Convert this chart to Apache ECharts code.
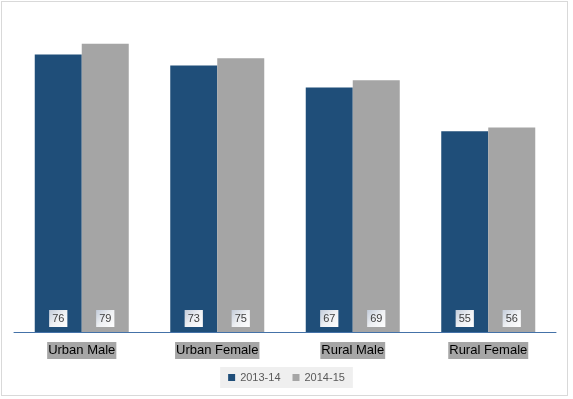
<!DOCTYPE html>
<html><head><meta charset="utf-8">
<script src="https://cdn.jsdelivr.net/npm/echarts@6/dist/echarts.min.js"></script>
<style>html,body{margin:0;padding:0;background:#fff}#wrap{position:absolute;left:1px;top:1px;width:567px;height:395px;border:1px solid #d9d9d9;box-sizing:border-box}#c{width:573px;height:399px;position:absolute;left:0;top:0}</style>
</head><body><div id="wrap"></div><div id="c"></div>
<script>
const categories = ['Urban Male','Urban Female','Rural Male','Rural Female'];
const s1 = [76,73,67,55];
const s2 = [79,75,69,56];
const names = ['2013-14','2014-15'];
const chart = echarts.init(document.getElementById('c'));
const lbl = {show:true, position:'insideBottom', distance:5, color:'#404040', fontSize:11, fontFamily:'Liberation Sans, Arial',
  backgroundColor:{type:'linear',x:0,y:0,x2:1,y2:1,colorStops:[{offset:0,color:'#c3ccda'},{offset:0.5,color:'#eef0f3'},{offset:1,color:'#ffffff'}]},
  padding:[3,3,3,3], lineHeight:11};
chart.setOption({
  animation:false,
  grid:{left:14,right:17,top:40,bottom:67,containLabel:false},
  legend:{bottom:11,left:'center',itemWidth:7,itemHeight:7,itemGap:12,icon:'rect',backgroundColor:'#efefef',padding:[5,8,5,8],
    textStyle:{color:'#595959',fontSize:11,fontFamily:'Liberation Sans, Arial'},data:names},
  xAxis:{type:'category',data:categories,axisTick:{show:false},axisLine:{lineStyle:{color:'#4472a8',width:1}},
    axisLabel:{color:'#000',fontSize:13,fontFamily:'Liberation Sans, Arial',backgroundColor:'#a6a6a6',padding:[2,1,2,1],margin:10}},
  yAxis:{type:'value',min:0,max:80,show:false,splitLine:{show:false}},
  series:[
    {name:names[0],type:'bar',data:s1,barWidth:47,barGap:'0%',itemStyle:{color:'#1f4e79'},label:lbl},
    {name:names[1],type:'bar',data:s2,barWidth:47,barGap:'0%',itemStyle:{color:'#a5a5a5'},label:lbl}
  ]
});
</script></body></html>
